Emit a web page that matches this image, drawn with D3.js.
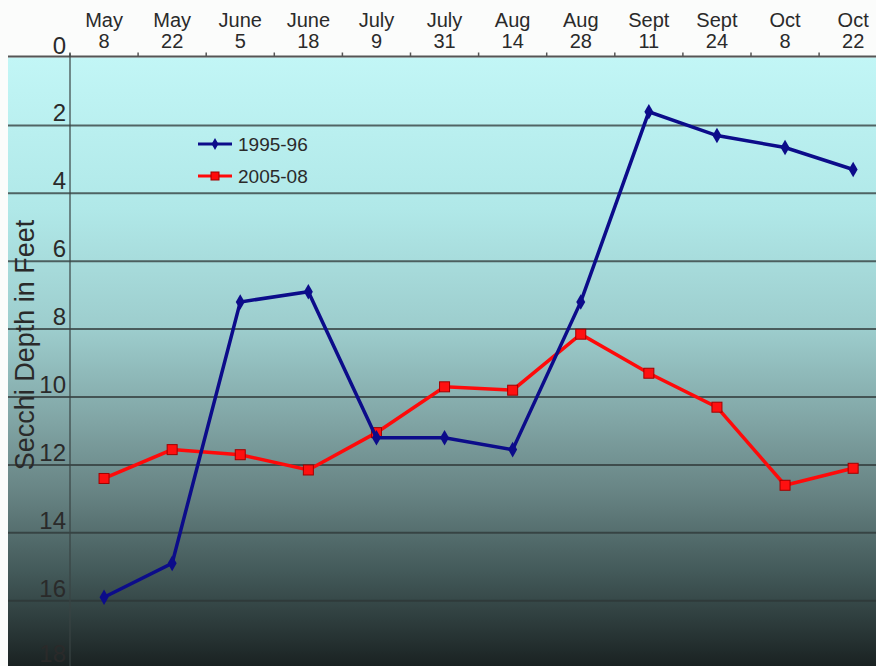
<!DOCTYPE html>
<head>
  <meta charset="utf-8">
  <script src="https://d3js.org/d3.v7.min.js"></script>
  <style>
    body { margin:0; background:#fbfcfb; }
    text { font-family: "Liberation Sans", Arial, sans-serif; fill:#2a2a2a; }
  </style>
</head>
<body>
<script>
var width = 876,
    height = 666;

// dates along the top, two lines each
var months = ["May","May","June","June","July","July","Aug","Aug","Sept","Sept","Oct","Oct"];
var days   = ["8","22","5","18","9","31","14","28","11","24","8","22"];
var yTicks = [0,2,4,6,8,10,12,14,16,18];

// secchi depth in feet
var depth9596 = [15.9, 14.9, 7.2, 6.9, 11.2, 11.2, 11.55, 7.2, 1.6, 2.3, 2.65, 3.3];
var depth0508 = [12.4, 11.55, 11.7, 12.15, 11.05, 9.7, 9.8, 8.15, 9.3, 10.3, 12.6, 12.1];

var plotLeft = 70, plotTop = 57.5, step = 68.1;

var svg = d3.select("body").append("svg")
    .attr("width", width)
    .attr("height", height);

var x = d3.scaleBand()
    .domain(d3.range(months.length))
    .range([plotLeft, plotLeft + step * months.length]);

var y = d3.scaleLinear()
    .domain([0, 18])
    .range([plotTop, plotTop + 9 * 67.9]);

// background gradient
var grad = svg.append("defs").append("linearGradient")
    .attr("id", "bg").attr("x1", 0).attr("y1", 0).attr("x2", 0).attr("y2", 1);
var stops = [[0, "#c2f6f6"], [0.25, "#b0e8e8"], [0.45, "#9ccccc"], [0.6, "#80a4a4"],
             [0.72, "#668282"], [0.85, "#425858"], [1, "#1a2222"]];
stops.forEach(function(s) {
  grad.append("stop").attr("offset", s[0]).attr("stop-color", s[1]);
});

svg.append("rect")
    .attr("x", 8).attr("y", plotTop)
    .attr("width", width - 8).attr("height", height - plotTop)
    .attr("fill", "url(#bg)");

// gridlines
svg.selectAll(".grid")
    .data(yTicks.filter(function(d) { return d > 0; }))
    .enter().append("line")
    .attr("x1", 8).attr("x2", width)
    .attr("y1", function(d) { return y(d); })
    .attr("y2", function(d) { return y(d); })
    .attr("stroke", "#2e3636")
    .attr("stroke-opacity", 0.75)
    .attr("stroke-width", 2);

// top axis line and ticks
svg.append("line")
    .attr("x1", 8).attr("x2", width)
    .attr("y1", plotTop - 1).attr("y2", plotTop - 1)
    .attr("stroke", "#555").attr("stroke-width", 2);

svg.selectAll(".xtick")
    .data(d3.range(months.length + 1))
    .enter().append("line")
    .attr("x1", function(d) { return plotLeft + d * step; })
    .attr("x2", function(d) { return plotLeft + d * step; })
    .attr("y1", plotTop - 5).attr("y2", plotTop - 1)
    .attr("stroke", "#555").attr("stroke-width", 1.5);

// y axis line
svg.append("line")
    .attr("x1", plotLeft).attr("x2", plotLeft)
    .attr("y1", plotTop - 4).attr("y2", height)
    .attr("stroke", "#3a4444").attr("stroke-opacity", 0.8).attr("stroke-width", 1.5);

// x labels
svg.selectAll(".mon")
    .data(months)
    .enter().append("text")
    .attr("x", function(d, i) { return x(i) + x.bandwidth() / 2; })
    .attr("y", 27)
    .attr("text-anchor", "middle")
    .style("font-size", "20px")
    .text(function(d) { return d; });

svg.selectAll(".day")
    .data(days)
    .enter().append("text")
    .attr("x", function(d, i) { return x(i) + x.bandwidth() / 2; })
    .attr("y", 48)
    .attr("text-anchor", "middle")
    .style("font-size", "20px")
    .text(function(d) { return d; });

// y labels (sit above their gridline)
svg.selectAll(".ylab")
    .data(yTicks)
    .enter().append("text")
    .attr("x", plotLeft - 4)
    .attr("y", function(d) { return Math.min(y(d) - 4, height - 4); })
    .attr("text-anchor", "end")
    .style("font-size", "24px")
    .text(function(d) { return d; });

svg.append("text")
    .attr("transform", "translate(34,345) rotate(-90)")
    .attr("text-anchor", "middle")
    .style("font-size", "27px")
    .text("Secchi Depth in Feet");

// lines
var line = d3.line()
    .x(function(d, i) { return x(i) + x.bandwidth() / 2; })
    .y(function(d) { return y(d); });

svg.append("path")
    .datum(depth0508)
    .attr("d", line)
    .attr("fill", "none")
    .attr("stroke", "#ff0a0a")
    .attr("stroke-width", 3.5);

svg.selectAll(".sq")
    .data(depth0508)
    .enter().append("rect")
    .attr("x", function(d, i) { return x(i) + x.bandwidth() / 2 - 5; })
    .attr("y", function(d) { return y(d) - 5; })
    .attr("width", 10).attr("height", 10)
    .attr("fill", "#ff1010")
    .attr("stroke", "#a00000").attr("stroke-width", 1);

svg.append("path")
    .datum(depth9596)
    .attr("d", line)
    .attr("fill", "none")
    .attr("stroke", "#0c0c8a")
    .attr("stroke-width", 3.5);

svg.selectAll(".dia")
    .data(depth9596)
    .enter().append("path")
    .attr("d", d3.symbol().type(d3.symbolDiamond).size(70))
    .attr("transform", function(d, i) {
      return "translate(" + (x(i) + x.bandwidth() / 2) + "," + y(d) + ")";
    })
    .attr("fill", "#0c0c8a");

// legend
var legend = [["1995-96", "#0c0c8a"], ["2005-08", "#ff0a0a"]];
legend.forEach(function(l, i) {
  var ly = 144 + i * 32;
  svg.append("line")
      .attr("x1", 198).attr("x2", 232)
      .attr("y1", ly).attr("y2", ly)
      .attr("stroke", l[1]).attr("stroke-width", 3);
  if (i == 0) {
    svg.append("path")
        .attr("d", d3.symbol().type(d3.symbolDiamond).size(40))
        .attr("transform", "translate(215," + ly + ")")
        .attr("fill", l[1]);
  } else {
    svg.append("rect")
        .attr("x", 211).attr("y", ly - 4).attr("width", 8).attr("height", 8)
        .attr("fill", l[1]).attr("stroke", "#a00000");
  }
  svg.append("text")
      .attr("x", 238).attr("y", ly + 7)
      .style("font-size", "19px")
      .text(l[0]);
});
</script>
</body>
